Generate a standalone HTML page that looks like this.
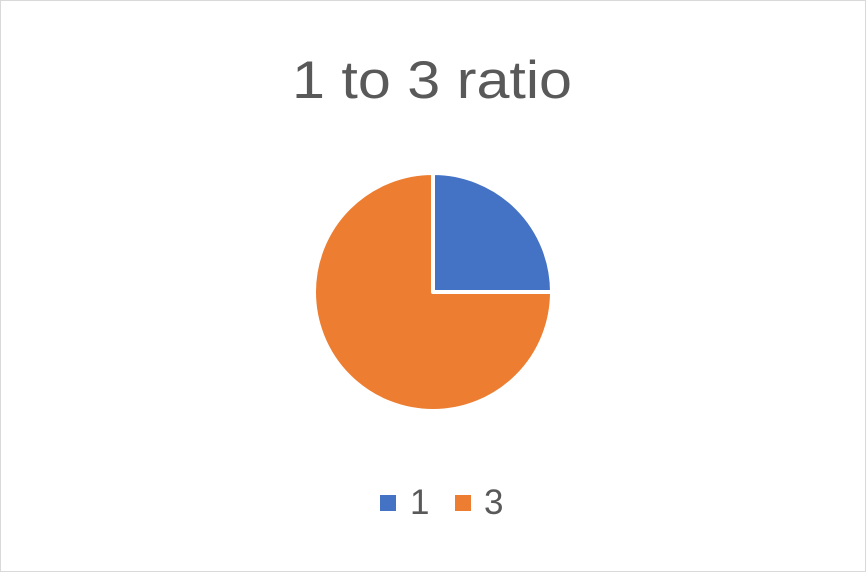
<!DOCTYPE html>
<html><head><meta charset="utf-8"><style>
html,body{margin:0;padding:0;background:#fff}
#c{position:relative;width:864px;height:570px;border:1px solid #d9d9d9;background:#fff;overflow:hidden;font-family:"Liberation Sans",sans-serif;color:#595959}
</style></head><body>
<div id="c">
<svg width="864" height="570">
<text x="291" y="97" textLength="280" lengthAdjust="spacingAndGlyphs" font-size="53" fill="#595959">1 to 3 ratio</text>
<g id="slices"></g>
<g>
<rect x="379" y="494" width="16" height="16" fill="#4472c4"/>
<text x="409" y="513" font-size="35" fill="#595959">1</text>
<rect x="454" y="494" width="16" height="16" fill="#ed7d31"/>
<text x="483" y="513" font-size="35" fill="#595959">3</text>
</g>
</svg>
</div>
<script>
const categories=["1","3"];
const values=[1,3];
const colors=["#4472c4","#ed7d31"];
const cx=432,cy=291,r=119;
const g=document.getElementById('slices');
const total=values.reduce((a,b)=>a+b,0);
let a0=-Math.PI/2;
values.forEach((v,i)=>{
  const a1=a0+v/total*2*Math.PI;
  const large=(a1-a0)>Math.PI?1:0;
  const x0=cx+r*Math.cos(a0),y0=cy+r*Math.sin(a0),x1=cx+r*Math.cos(a1),y1=cy+r*Math.sin(a1);
  const p=document.createElementNS('http://www.w3.org/2000/svg','path');
  p.setAttribute('d',`M${cx},${cy}L${x0},${y0}A${r},${r} 0 ${large} 1 ${x1},${y1}Z`);
  p.setAttribute('fill',colors[i]);
  p.setAttribute('stroke','#fff');
  p.setAttribute('stroke-width','4');
  p.setAttribute('stroke-linejoin','round');
  
  
  g.appendChild(p);
  a0=a1;
});
</script>
</body></html>
